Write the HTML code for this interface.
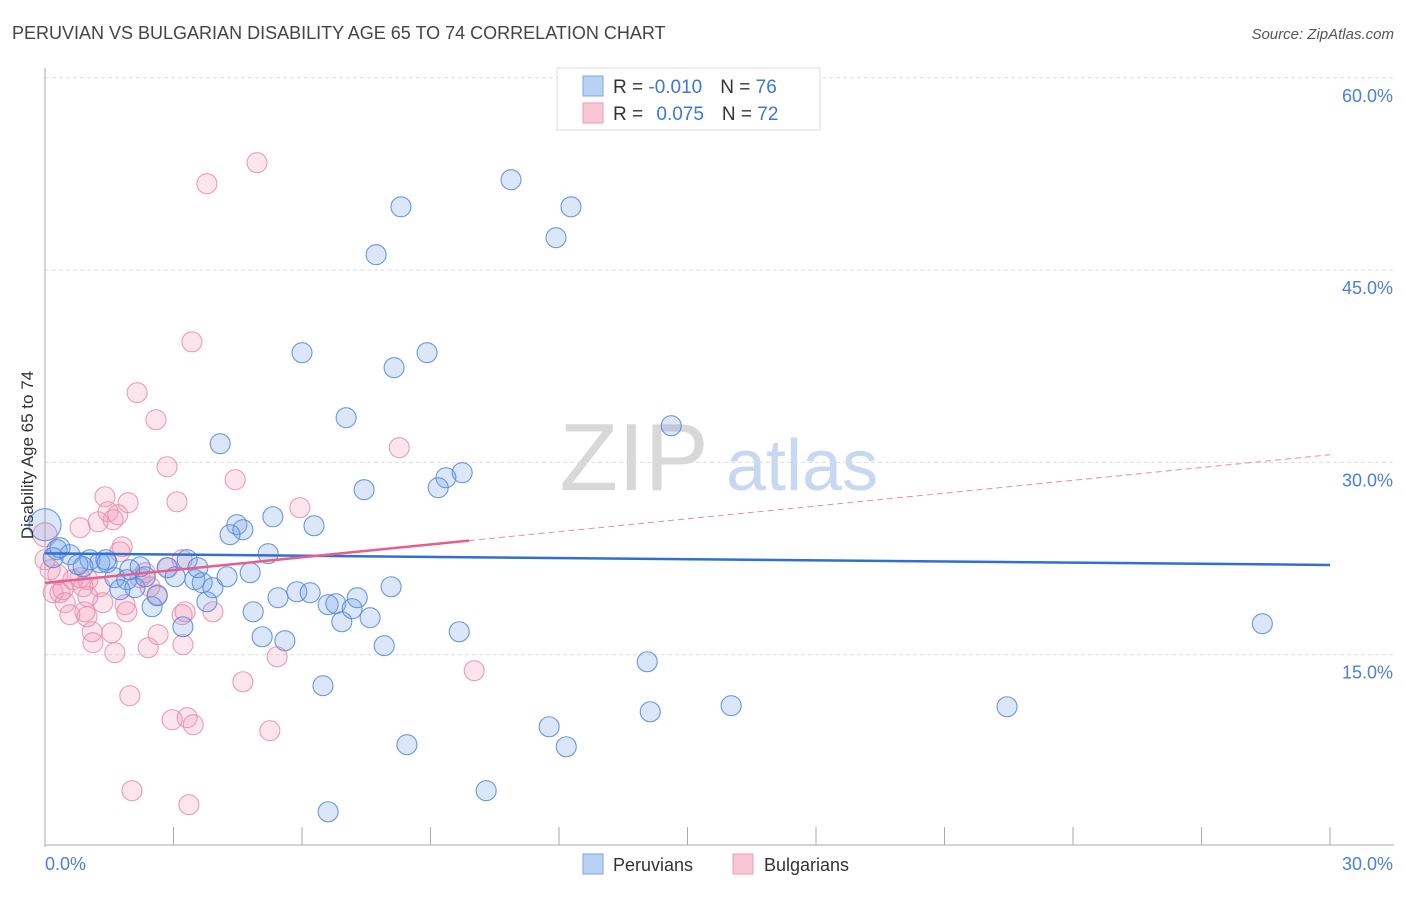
<!DOCTYPE html>
<html><head><meta charset="utf-8"><style>
body{margin:0;background:#fff;font-family:"Liberation Sans",sans-serif}
svg text{font-family:"Liberation Sans",sans-serif}
</style></head><body>
<svg id="chart" width="1406" height="892" xmlns="http://www.w3.org/2000/svg">
<text x="12" y="39" font-size="18" fill="#444">PERUVIAN VS BULGARIAN DISABILITY AGE 65 TO 74 CORRELATION CHART</text>
<text x="1394" y="39" font-size="15" fill="#555" font-style="italic" text-anchor="end">Source: ZipAtlas.com</text>
<g>
<text x="634" y="490" font-size="96" fill="#d8d8d8" font-family="Liberation Serif" text-anchor="middle">ZIP</text>
<text x="802" y="490" font-size="72" fill="#c6d9f1" text-anchor="middle">atlas</text>
</g>
<g id="grid"></g>
<g id="axes"></g>
<g id="pts"></g>
<g id="trend"></g>
<text transform="translate(33,455) rotate(-90)" font-size="17" fill="#333" text-anchor="middle">Disability Age 65 to 74</text>
<g>
<rect x="557" y="68" width="263" height="62" fill="#fff" stroke="#ddd"/>
<rect x="583" y="76" width="20" height="20" fill="#b8d2f4" stroke="#7aa6e6"/>
<rect x="583" y="103" width="20" height="20" fill="#f9c6d5" stroke="#ee9ab4"/>
<text x="613" y="93" font-size="19" fill="#333">R = <tspan fill="#3b78d8">-0.010</tspan><tspan dx="18">N = </tspan><tspan fill="#3b78d8">76</tspan></text>
<text x="613" y="120" font-size="19" fill="#333">R = <tspan dx="8" fill="#3b78d8">0.075</tspan><tspan dx="18">N = </tspan><tspan fill="#3b78d8">72</tspan></text>
</g>
<g>
<rect x="583" y="854" width="20" height="20" fill="#b8d2f4" stroke="#7aa6e6"/>
<text x="613" y="871" font-size="18" fill="#333">Peruvians</text>
<rect x="733" y="854" width="20" height="20" fill="#f9c6d5" stroke="#ee9ab4"/>
<text x="764" y="871" font-size="18" fill="#333">Bulgarians</text>
</g>
</svg>
<script>
const yTicks=[15,30,45,60];
const yTickLabels=["15.0%","30.0%","45.0%","60.0%"];
const xTickLabels=["0.0%","30.0%"];
const peruX=[10.88,8.31,12.28,11.93,7.73,6.0,8.92,8.15,7.03,14.62,4.09,9.74,9.36,9.18,7.45,5.32,4.48,4.62,6.28,4.32,5.21,0,0.28,0.19,0.58,1.05,1.28,1.45,0.89,2.22,2.85,3.32,3.04,1.63,1.91,2.1,2.34,1.75,3.5,3.67,3.92,4.25,4.79,3.78,2.5,2.62,4.86,5.44,5.88,6.19,3.22,5.07,5.6,6.61,6.79,6.93,7.17,7.29,7.59,7.92,8.08,9.67,6.49,8.45,10.3,6.61,11.77,12.17,14.06,14.13,16.02,22.46,28.42,0.77,0.35,1.98,3.57,1.42];
const peruY=[52.05,49.94,49.94,47.53,46.2,38.56,38.56,37.39,33.49,32.86,31.46,29.2,28.81,28.03,27.87,25.76,25.14,24.75,25.06,24.36,22.88,25.14,23.19,22.57,22.8,22.41,22.18,22.18,21.86,21.86,21.79,22.41,21.08,21.01,20.85,20.23,21.08,20.07,20.85,20.62,20.23,21.08,21.4,19.13,18.74,19.6,18.35,19.45,19.91,19.84,17.18,16.4,16.09,18.9,18.98,17.57,18.59,19.45,17.89,15.7,20.3,16.79,12.58,7.98,4.39,2.75,9.38,7.82,14.45,10.55,11.02,10.94,17.42,22.02,23.35,21.63,21.79,22.41];
const bulgX=[4.95,3.78,3.43,2.15,2.59,2.85,4.44,8.27,1.4,1.94,3.08,5.95,0.82,1.24,1.47,1.59,1.7,1.8,1.75,0,0.12,0.19,0.35,0.42,0.65,0.82,1.0,0.89,0.47,0.58,1.28,1.0,1.35,0.93,0.98,1.1,1.12,1.56,1.63,1.87,1.91,2.41,2.64,3.22,3.2,3.27,3.92,2.87,3.2,2.34,2.45,2.62,5.42,4.62,1.98,2.97,3.32,3.46,5.25,2.03,3.36,10.02,0,0.3,2.22];
const bulgY=[53.38,51.74,39.41,35.44,33.33,29.66,28.65,31.15,27.32,26.86,26.93,26.47,24.91,25.37,26.15,25.53,25.92,23.42,23.03,24.36,21.63,19.84,19.84,20.07,20.85,21.01,20.85,20.3,19.06,18.12,20.3,19.52,19.06,18.35,17.96,16.79,15.94,16.72,15.16,18.9,18.35,15.55,16.56,15.78,18.12,18.35,18.35,21.79,22.41,21.4,20.3,19.68,14.84,12.89,11.8,9.93,10.09,9.54,9.07,4.39,3.3,13.75,22.41,21.24,21.01];
const peruTrend=[22.9,22.0];
const bulgTrend=[20.6,30.6];
const bulgSolidEnd=9.9;

const NS="http://www.w3.org/2000/svg";
const X0=45,X1=1330,Y0=847,YS=12.82;
function sx(v){return X0+(X1-X0)*v/30;}
function sy(v){return Y0-v*YS;}
function mk(tag,attrs,parent){const e=document.createElementNS(NS,tag);for(const k in attrs)e.setAttribute(k,attrs[k]);parent.appendChild(e);return e;}
const grid=document.getElementById('grid'),axes=document.getElementById('axes');
yTicks.forEach((t,i)=>{
  const l=mk('line',{x1:X0,x2:1394,y1:sy(t),y2:sy(t),stroke:'#ddd','stroke-dasharray':'4,3'},grid);
  
  
  const tx=mk('text',{x:1393,y:sy(t)+24,'font-size':18,fill:'#4a80d8','text-anchor':'end'},axes);
  tx.textContent=yTickLabels[i];
  
  
});
const ya=mk('line',{x1:X0,x2:X0,y1:68,y2:847,stroke:'#aaa'},axes);


const xa=mk('line',{x1:X0,x2:1394,y1:845,y2:845,stroke:'#aaa'},axes);


for(let i=0;i<=10;i++){
  const t=mk('line',{x1:sx(i*3),x2:sx(i*3),y1:827,y2:845,stroke:'#aaa'},axes);
  
  
}
[[0,'start',45],[30,'end',1393]].forEach((d,i)=>{
  const t=mk('text',{x:d[2],y:870,'font-size':18,fill:'#4a80d8','text-anchor':d[1]},axes);
  t.textContent=xTickLabels[i];
  
  
});
const pts=document.getElementById('pts');
function drawSeries(xs,ys,fill,stroke,name){
  xs.forEach((x,i)=>{
    const r=(x===0&&i<25)?(name==='peruvian-point'?16:12):10;
    const c=mk('circle',{cx:sx(xs[i]),cy:sy(ys[i]),r:r,fill:fill,stroke:stroke,'stroke-width':1.1},pts);
    
    
  });
}
drawSeries(bulgX,bulgY,'rgba(244,150,180,0.25)','rgba(232,140,172,0.85)','bulgarian-point');
drawSeries(peruX,peruY,'rgba(110,160,232,0.25)','rgba(80,135,218,0.85)','peruvian-point');
const tr=document.getElementById('trend');
function lv(tr,x){return tr[0]+(tr[1]-tr[0])*x/30;}
let l=mk('line',{x1:sx(0),y1:sy(lv(peruTrend,0)),x2:sx(30),y2:sy(lv(peruTrend,30)),stroke:'#2f6fd6','stroke-width':2.5},tr);


l=mk('line',{x1:sx(0),y1:sy(lv(bulgTrend,0)),x2:sx(bulgSolidEnd),y2:sy(lv(bulgTrend,bulgSolidEnd)),stroke:'#e5608a','stroke-width':2.5},tr);


l=mk('line',{x1:sx(bulgSolidEnd),y1:sy(lv(bulgTrend,bulgSolidEnd)),x2:sx(30),y2:sy(lv(bulgTrend,30)),stroke:'#eb8aa8','stroke-width':1,'stroke-dasharray':'6,4'},tr);


</script>
</body></html>
